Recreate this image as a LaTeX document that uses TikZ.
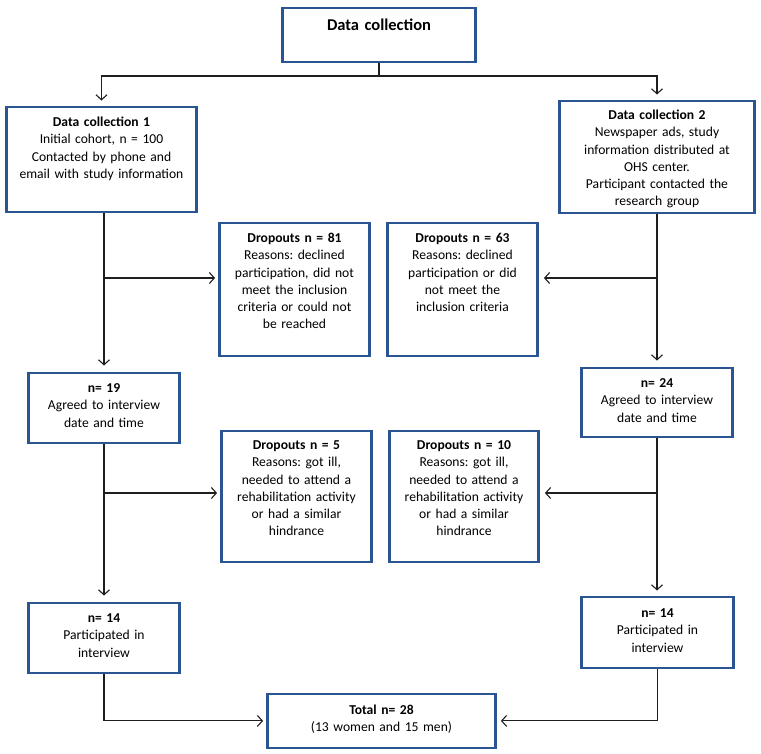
\documentclass[tikz,border=0pt]{standalone}
\usepackage{fontspec}
\setmainfont{Carlito}
\usepackage{tikz}
\usetikzlibrary{arrows.meta}
\definecolor{boxblue}{HTML}{2A5592}
\frenchspacing
\newcommand{\bodyfont}{\fontsize{13.6}{17.3}\selectfont}
\newcommand{\titlefont}{\fontsize{16.5}{19}\selectfont\bfseries}
\tikzstyle{stage}=[draw=boxblue, line width=2.8pt, align=center, inner sep=0pt, anchor=north, text height=19.5pt, font=\bodyfont]
\tikzstyle{flow}=[draw=black!88, line width=1.1pt, -{Straight Barb[length=5pt,width=11pt]}]

\begin{document}
\begin{tikzpicture}[x=1pt, y=-1pt]
        \useasboundingbox (0,0) rectangle (761,753);
        \node[stage, font=\titlefont, text width=193pt, text height=23pt, text depth=31pt] (top) at (379,6.5) {Data collection};
        \node[stage, text width=190pt, text depth=85.5pt] (dc1) at (101.5,105.5) {\textbf{Data collection 1}\\Initial cohort, n = 100\\Contacted by phone and\\email with study information};
        \node[stage, text width=195pt, text height=18.5pt, text depth=93.5pt] (dc2) at (657,99.5) {\textbf{Data collection 2}\\Newspaper ads, study\\information distributed at\\OHS center.\\Participant contacted the\\research group};
        \node[stage, text width=150pt, text depth=113.5pt] (d81) at (294.5,221.5) {\textbf{Dropouts n = 81}\\Reasons: declined\\participation, did not\\meet the inclusion\\criteria or could not\\be reached};
        \node[stage, text width=150pt, text depth=113.5pt] (d63) at (462.5,221.5) {\textbf{Dropouts n = 63}\\Reasons: declined\\participation or did\\not meet the\\inclusion criteria};
        \node[stage, text width=151pt, text depth=50.5pt] (n19) at (104,371.5) {\textbf{n= 19}\\Agreed to interview\\date and time};
        \node[stage, text width=151pt, text depth=49.5pt] (n24) at (657,366.5) {\textbf{n= 24}\\Agreed to interview\\date and time};
        \node[stage, text width=150pt, text height=18.5pt, text depth=112.5pt] (d5) at (296.5,429.5) {\textbf{Dropouts n = 5}\\Reasons: got ill,\\needed to attend a\\rehabilitation activity\\or had a similar\\hindrance};
        \node[stage, text width=149pt, text height=18.5pt, text depth=112.5pt] (d10) at (464,429.5) {\textbf{Dropouts n = 10}\\Reasons: got ill,\\needed to attend a\\rehabilitation activity\\or had a similar\\hindrance};
        \node[stage, text width=151pt, text depth=50.5pt] (n14l) at (104,601.5) {\textbf{n= 14}\\Participated in\\interview};
        \node[stage, text width=152pt, text height=20.5pt, text depth=50.5pt] (n14r) at (657.5,595.5) {\textbf{n= 14}\\Participated in\\interview};
        \node[stage, text width=228pt, text height=20.5pt, text depth=33.5pt] (total) at (381.5,692.5) {\textbf{Total n= 28}\\(13 women and 15 men)};

        \coordinate (split) at (379,76);
        \draw[draw=black!88, line width=1.1pt] (top.south) -- (split);
        \draw[flow, shorten >=5pt] (split) -| (dc1.north);
        \draw[flow, shorten >=5pt] (split) -| (dc2.north);

        \coordinate (b1) at (104,278);
        \coordinate (b2) at (104,493);
        \coordinate (b3) at (657,278);
        \coordinate (b4) at (657,493);
        \draw[flow, shorten >=6pt] (dc1.south -| n19.north) -- (n19.north);
        \draw[flow, shorten >=3pt] (b1) -- (b1 -| d81.west);
        \draw[flow, shorten >=6pt] (n19.south) -- (n14l.north);
        \draw[flow, shorten >=3pt] (b2) -- (b2 -| d5.west);
        \draw[flow, shorten >=3pt] (n14l.south) |- (total.west);

        \draw[flow, shorten >=6pt] (dc2.south) -- (n24.north);
        \draw[flow, shorten >=5pt] (b3) -- (b3 -| d63.east);
        \draw[flow, shorten >=5pt] (n24.south) -- (n24.south |- n14r.north);
        \draw[flow, shorten >=5pt] (b4) -- (b4 -| d10.east);
        \draw[flow, shorten >=4pt] (n14r.south) |- (total.east);
      \end{tikzpicture}
\end{document}
